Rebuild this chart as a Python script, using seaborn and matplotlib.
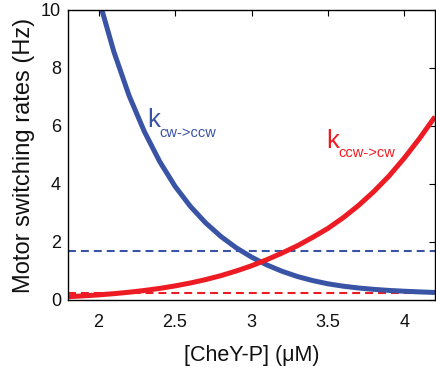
import matplotlib
matplotlib.use("Agg")
import matplotlib.pyplot as plt
import numpy as np
import pandas as pd
import seaborn as sns

# CheY-P concentration (uM)
conc = [1.8, 1.9, 2.0, 2.1, 2.2, 2.3, 2.4, 2.5, 2.6, 2.7, 2.8, 2.9, 3.0,
        3.1, 3.2, 3.3, 3.4, 3.5, 3.6, 3.7, 3.8, 3.9, 4.0, 4.1, 4.2]
# motor switching rates (Hz)
k_cw_ccw = [15.4, 12.6, 10.4, 8.56, 7.04, 5.80, 4.77, 3.92, 3.23, 2.66, 2.19,
            1.80, 1.48, 1.21, 0.99, 0.81, 0.67, 0.558, 0.476, 0.414, 0.367,
            0.330, 0.302, 0.279, 0.260]
k_ccw_cw = [0.113, 0.142, 0.176, 0.218, 0.268, 0.329, 0.400, 0.486, 0.586,
            0.704, 0.84, 1.00, 1.18, 1.39, 1.62, 1.87, 2.16, 2.47, 2.84, 3.26,
            3.74, 4.28, 4.90, 5.58, 6.32]
# reference levels (Hz)
ref_cw_ccw = 1.7
ref_ccw_cw = 0.25

x_ticks = [2, 2.5, 3, 3.5, 4]
x_tick_labels = ["2", "2.5", "3", "3.5", "4"]
y_ticks = [0, 2, 4, 6, 8, 10]
y_tick_labels = ["0", "2", "4", "6", "8", "10"]

BLUE = "#3a54a5"
RED = "#ed1c24"

sns.set_theme(style="white")
plt.rcParams["font.family"] = ["Liberation Sans", "DejaVu Sans"]

df = pd.DataFrame({
    "conc": conc * 2,
    "rate": k_cw_ccw + k_ccw_cw,
    "series": ["cw->ccw"] * len(conc) + ["ccw->cw"] * len(conc),
})

fig = plt.figure(figsize=(4.36, 3.70), dpi=100)
ax = fig.add_axes([68 / 436, 70 / 370, 367 / 436, 290 / 370])

ax.axhline(ref_cw_ccw, color=BLUE, lw=1.5, dashes=(3.8, 2.4), zorder=1)
ax.axhline(ref_ccw_cw, color=RED, lw=1.5, dashes=(3.8, 2.4), zorder=1)

sns.lineplot(data=df, x="conc", y="rate", hue="series",
             palette={"cw->ccw": BLUE, "ccw->cw": RED},
             lw=3.6, legend=False, ax=ax, zorder=2,
             solid_joinstyle="round", solid_capstyle="butt")

ax.set_xlim(1.8, 4.2)
ax.set_ylim(0, 10)
ax.set_xticks(x_ticks, x_tick_labels)
ax.set_yticks(y_ticks, y_tick_labels)
ax.tick_params(direction="in", top=True, right=True, length=4, width=0.8,
               color="black", labelsize=13, labelcolor="#111111")
ax.tick_params(axis="x", pad=10)
ax.tick_params(axis="y", pad=5)
for sp in ax.spines.values():
    sp.set_color("black")
    sp.set_linewidth(1.0)

ax.set_xlabel("[CheY-P] (\u03bcM)", fontsize=15.5, color="#111111",
              labelpad=10)
ax.set_ylabel("Motor switching rates (Hz)", fontsize=17, color="#111111",
              labelpad=4)

ax.text(2.32, 5.97, "k", color=BLUE, fontsize=18.5, ha="left", va="baseline")
ax.text(2.40, 5.62, "cw->ccw", color=BLUE, fontsize=10.5, ha="left",
        va="baseline")
ax.text(3.487, 5.24, "k", color=RED, fontsize=18.5, ha="left", va="baseline")
ax.text(3.571, 4.93, "ccw->cw", color=RED, fontsize=10.5, ha="left",
        va="baseline")

fig.savefig("out.png", dpi=100)
